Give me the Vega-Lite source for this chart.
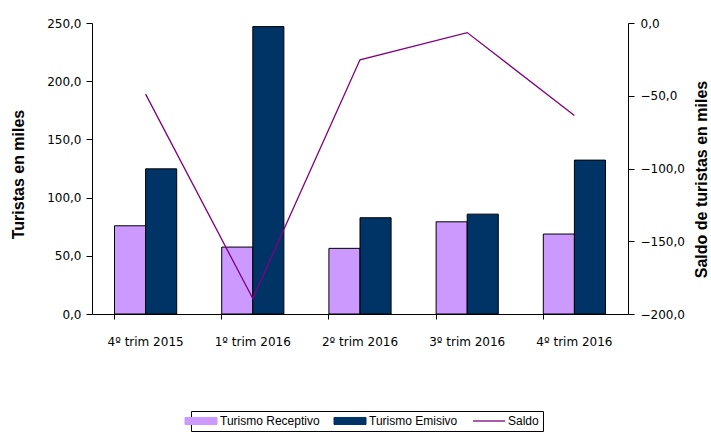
{
  "$schema": "https://vega.github.io/schema/vega-lite/v6.json",
  "width": 536,
  "height": 291,
  "autosize": {"type": "none"},
  "padding": {"left": 92, "top": 23, "right": 83, "bottom": 120},
  "background": "white",
  "config": {
    "view": {"stroke": null},
    "font": "DejaVu Sans",
    "axis": {
      "grid": false,
      "domainColor": "#000",
      "tickColor": "#000",
      "labelColor": "#000",
      "labelFont": "DejaVu Sans",
      "labelFontSize": 12,
      "titleFont": "Liberation Sans",
      "titleFontSize": 16,
      "titleFontWeight": "bold",
      "titleColor": "#000"
    }
  },
  "data": {
    "values": [
      {"trim": "4º trim 2015", "serie": "Turismo Receptivo", "valor": 75.8},
      {"trim": "4º trim 2015", "serie": "Turismo Emisivo", "valor": 124.7},
      {"trim": "4º trim 2015", "serie": "Saldo", "valor": -48.9},
      {"trim": "1º trim 2016", "serie": "Turismo Receptivo", "valor": 57.5},
      {"trim": "1º trim 2016", "serie": "Turismo Emisivo", "valor": 246.9},
      {"trim": "1º trim 2016", "serie": "Saldo", "valor": -189.4},
      {"trim": "2º trim 2016", "serie": "Turismo Receptivo", "valor": 56.4},
      {"trim": "2º trim 2016", "serie": "Turismo Emisivo", "valor": 82.7},
      {"trim": "2º trim 2016", "serie": "Saldo", "valor": -25.3},
      {"trim": "3º trim 2016", "serie": "Turismo Receptivo", "valor": 79.2},
      {"trim": "3º trim 2016", "serie": "Turismo Emisivo", "valor": 85.8},
      {"trim": "3º trim 2016", "serie": "Saldo", "valor": -6.6},
      {"trim": "4º trim 2016", "serie": "Turismo Receptivo", "valor": 68.7},
      {"trim": "4º trim 2016", "serie": "Turismo Emisivo", "valor": 132.2},
      {"trim": "4º trim 2016", "serie": "Saldo", "valor": -63.5}
    ]
  },
  "encoding": {
    "x": {
      "field": "trim",
      "type": "nominal",
      "sort": ["4º trim 2015", "1º trim 2016", "2º trim 2016", "3º trim 2016", "4º trim 2016"],
      "scale": {"paddingInner": 0.42, "paddingOuter": 0.21},
      "axis": {"title": null, "labelAngle": 0, "bandPosition": 0, "tickSize": 5, "labelPadding": 17}
    },
    "color": {
      "field": "serie",
      "type": "nominal",
      "scale": {
        "domain": ["Turismo Receptivo", "Turismo Emisivo", "Saldo"],
        "range": ["#CC99FF", "#003366", "#800080"]
      },
      "legend": {
        "orient": "none",
        "legendX": 99,
        "legendY": 388,
        "direction": "horizontal",
        "title": null,
        "strokeColor": "#000",
        "padding": 4,
        "symbolSize": 1024,
        "labelFont": "Liberation Sans",
        "labelFontSize": 12,
        "labelColor": "#000",
        "labelOffset": 13,
        "columnPadding": 12,
        "encode": {
          "symbols": {
            "update": {
              "shape": {"signal": "datum.value === 'Saldo' ? 'M-1,0H1' : 'M-1,-0.22H1V0.22H-1Z'"},
              "stroke": {"signal": "datum.value === 'Saldo' ? '#800080' : '#000'"},
              "fill": {"signal": "datum.value === 'Saldo' ? 'transparent' : scale('color', datum.value)"},
              "strokeWidth": {"signal": "datum.value === 'Saldo' ? 1.3 : 1"},
              "opacity": {"value": 1}
            }
          }
        }
      }
    }
  },
  "layer": [
    {
      "transform": [{"filter": "datum.serie !== 'Saldo'"}],
      "mark": {"type": "bar", "stroke": "#000", "strokeWidth": 1},
      "encoding": {
        "xOffset": {"field": "serie", "type": "nominal", "sort": ["Turismo Receptivo", "Turismo Emisivo"], "scale": {"paddingInner": 0, "paddingOuter": 0}},
        "y": {
          "field": "valor",
          "type": "quantitative",
          "scale": {"domain": [0, 250], "nice": false},
          "axis": {
            "title": "Turistas en miles",
            "values": [0, 50, 100, 150, 200, 250],
            "labelExpr": "replace(format(datum.value, '.1f'), '.', ',')",
            "tickSize": 6,
            "labelPadding": 5,
            "titlePadding": 20,
            "titleY": 151
          }
        }
      }
    },
    {
      "transform": [{"filter": "datum.serie === 'Saldo'"}],
      "mark": {"type": "line", "strokeWidth": 1.3},
      "encoding": {
        "y": {
          "field": "valor",
          "type": "quantitative",
          "scale": {"domain": [-200, 0], "nice": false},
          "axis": {
            "orient": "right",
            "title": "Saldo de turistas en miles",
            "titleAngle": 270,
            "titleBaseline": "top",
            "values": [-200, -150, -100, -50, 0],
            "labelExpr": "replace(format(datum.value, '.1f'), '.', ',')",
            "tickSize": 6,
            "labelPadding": 6,
            "titlePadding": 9,
            "titleY": 156
          }
        }
      }
    }
  ],
  "resolve": {"scale": {"y": "independent"}}
}
